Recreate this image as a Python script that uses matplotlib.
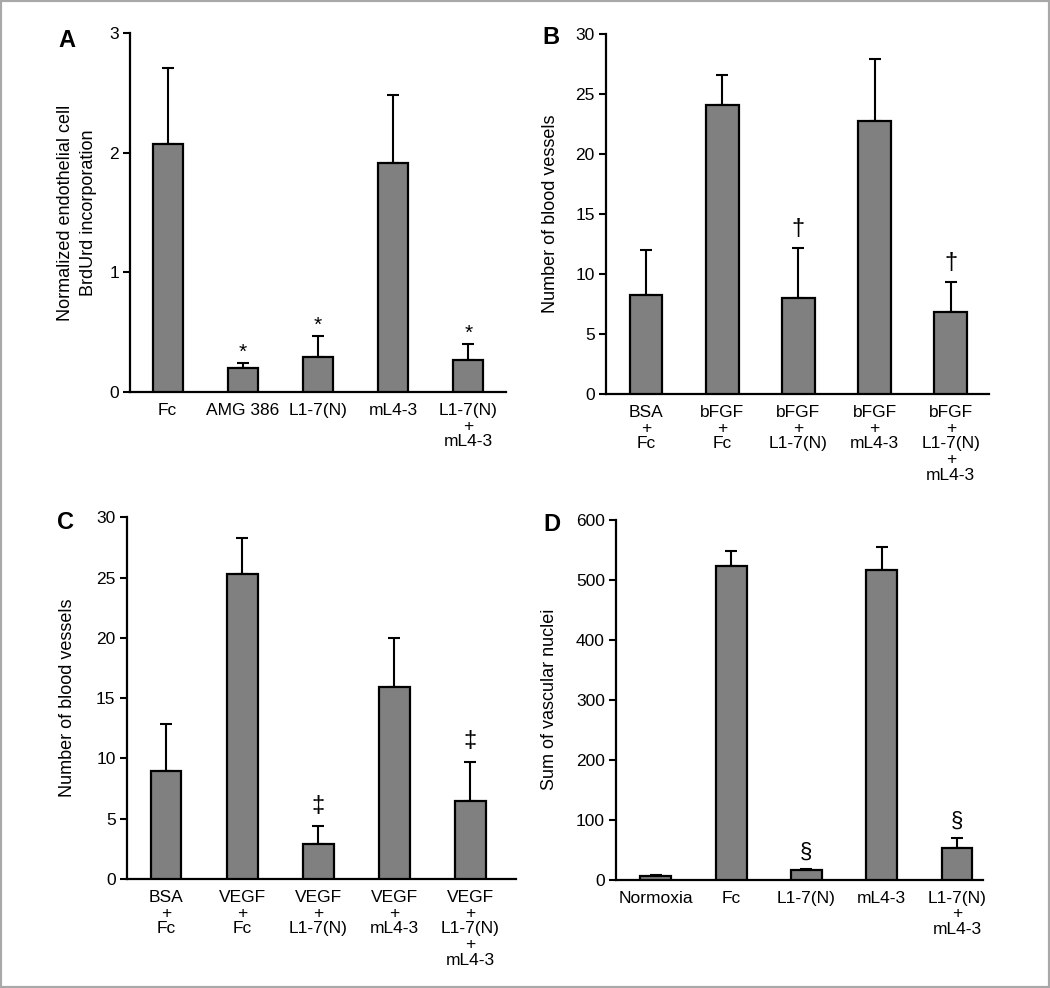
import matplotlib.pyplot as plt
from matplotlib.patches import Rectangle

plt.rcParams['font.family'] = ['Liberation Sans', 'DejaVu Sans']

# panel A
a_labels = ['Fc', 'AMG 386', 'L1-7(N)', 'mL4-3', 'L1-7(N)\n+\nmL4-3']
a_vals = [2.07, 0.20, 0.295, 1.91, 0.265]
a_err = [0.64, 0.04, 0.17, 0.57, 0.135]
a_marks = ['', '*', '*', '', '*']

# panel B
b_labels = ['BSA\n+\nFc', 'bFGF\n+\nFc', 'bFGF\n+\nL1-7(N)', 'bFGF\n+\nmL4-3',
            'bFGF\n+\nL1-7(N)\n+\nmL4-3']
b_vals = [8.27, 24.06, 8.0, 22.76, 6.85]
b_err = [3.69, 2.5, 4.13, 5.14, 2.45]
b_marks = ['', '', '†', '', '†']

# panel C
c_labels = ['BSA\n+\nFc', 'VEGF\n+\nFc', 'VEGF\n+\nL1-7(N)', 'VEGF\n+\nmL4-3',
            'VEGF\n+\nL1-7(N)\n+\nmL4-3']
c_vals = [8.98, 25.3, 2.93, 15.95, 6.44]
c_err = [3.85, 3.0, 1.44, 4.03, 3.26]
c_marks = ['', '', '‡', '', '‡']

# panel D
d_labels = ['Normoxia', 'Fc', 'L1-7(N)', 'mL4-3', 'L1-7(N)\n+\nmL4-3']
d_vals = [6.7, 523, 15.6, 516, 52.8]
d_err = [0.5, 25, 2.5, 38, 16.7]
d_marks = ['', '', '§', '', '§']

# symbol size / gap above the error cap (points)
mark_style = {'*': (15, 8), '†': (17, 14), '‡': (17, 15), '§': (16, 12)}

panels = [
    # letter, labels, vals, err, marks, ylabel, ylim, yticks, rect, xlim, width, label_x, letter_xy
    ('A', a_labels, a_vals, a_err, a_marks,
     'Normalized endothelial cell\nBrdUrd incorporation', 3, [0, 1, 2, 3],
     [0.1238, 0.6032, 0.358, 0.3634], (-0.5, 4.5), 0.40, -0.141, (-0.168, 0.98)),
    ('B', b_labels, b_vals, b_err, b_marks,
     'Number of blood vessels', 30, [0, 5, 10, 15, 20, 25, 30],
     [0.5771, 0.6012, 0.3647, 0.3647], (-0.525, 4.5), 0.43, -0.144, (-0.144, 0.99)),
    ('C', c_labels, c_vals, c_err, c_marks,
     'Number of blood vessels', 30, [0, 5, 10, 15, 20, 25, 30],
     [0.1207, 0.1103, 0.3708, 0.3661], (-0.52, 4.6), 0.40, -0.153, (-0.158, 0.987)),
    ('D', d_labels, d_vals, d_err, d_marks,
     'Sum of vascular nuclei', 600, [0, 100, 200, 300, 400, 500, 600],
     [0.5867, 0.1096, 0.3498, 0.3644], (-0.53, 4.35), 0.41, -0.18, (-0.174, 0.988)),
]

fig = plt.figure(figsize=(10.5, 9.88), dpi=100)

for letter, labels, vals, err, marks, ylabel, ytop, yticks, rect, xlim, w, lx, lxy in panels:
    ax = fig.add_axes(rect)
    x = list(range(len(vals)))
    ax.bar(x, vals, width=w, color='#808080', edgecolor='black', linewidth=1.6, zorder=3)
    ax.errorbar(x, vals, yerr=[[0] * len(err), err], fmt='none', ecolor='black',
                elinewidth=1.5, capsize=4, capthick=1.5, zorder=2)
    for xi, v, e, m in zip(x, vals, err, marks):
        if m:
            fs, gap = mark_style[m]
            ax.annotate(m, (xi, v + e), xytext=(0, gap), textcoords='offset points',
                        ha='center', va='center', fontsize=fs)
    ax.set_xlim(*xlim)
    ax.set_ylim(0, ytop)
    ax.set_yticks(yticks)
    ax.set_xticks(x)
    ax.set_xticklabels(labels, fontsize=12.5, linespacing=1.05)
    ax.tick_params(axis='x', length=0, pad=8)
    ax.tick_params(axis='y', length=5, width=1.5, labelsize=12.5, pad=3)
    for s in ['top', 'right']:
        ax.spines[s].set_visible(False)
    for s in ['left', 'bottom']:
        ax.spines[s].set_linewidth(1.6)
    ax.set_ylabel(ylabel, fontsize=13, va='center', linespacing=1.4)
    ax.yaxis.set_label_coords(lx, 0.5)
    ax.text(lxy[0], lxy[1], letter, transform=ax.transAxes,
            fontsize=17, fontweight='bold', ha='center', va='center')

fig.patches.append(Rectangle((0, 0), 1, 1, transform=fig.transFigure, fill=False,
                             edgecolor='#a8a8a8', linewidth=3))

plt.savefig('out.png', dpi=100)
